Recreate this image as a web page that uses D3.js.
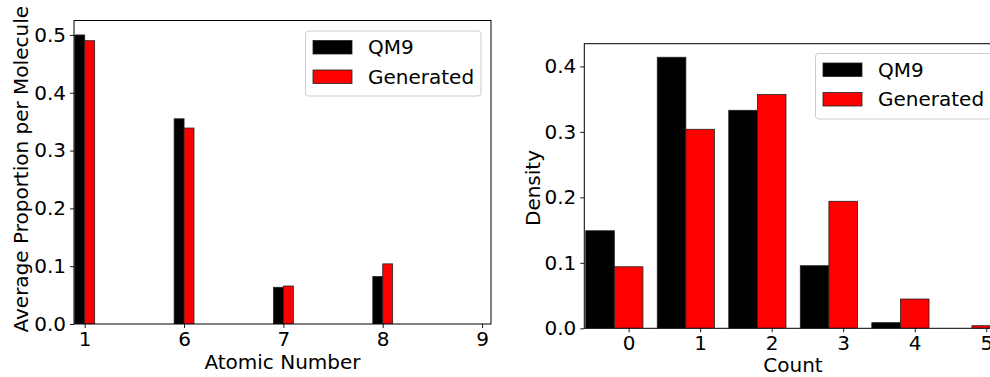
<!DOCTYPE html>
<html>
<head>
<meta charset="utf-8">
<script src="https://cdn.jsdelivr.net/npm/d3@7"></script>
<style>
  html, body { margin: 0; padding: 0; background: #fff; }
  svg { display: block; font-family: "DejaVu Sans", sans-serif; }
</style>
</head>
<body>
<svg id="chart" width="990" height="377"></svg>
<script>
// Left panel: average proportion of each element per molecule
const atomLabels = ["1", "6", "7", "8", "9"];
const atomQM9 = [0.500, 0.355, 0.0635, 0.082, 0.0];
const atomGen = [0.490, 0.339, 0.0657, 0.104, 0.0];
const atomYTicks = [0.0, 0.1, 0.2, 0.3, 0.4, 0.5];

// Right panel: count histogram (density)
const countBins = [0, 1, 2, 3, 4, 5];
const countQM9 = [0.149, 0.414, 0.333, 0.0956, 0.0086, 0.0];
const countGen = [0.094, 0.304, 0.357, 0.194, 0.0447, 0.004];
const countYTicks = [0.0, 0.1, 0.2, 0.3, 0.4];

const seriesNames = ["QM9", "Generated"];
const seriesColors = ["#000000", "#ff0000"];

const FS = 20;
const svg = d3.select("#chart");

function drawLegend(g, x0, y0, w, h) {
  const lg = g.append("g").attr("transform", `translate(${x0},${y0})`);
  lg.append("rect").attr("width", w).attr("height", h).attr("rx", 3)
    .attr("fill", "#fff").attr("fill-opacity", 0.8)
    .attr("stroke", "#cccccc").attr("stroke-width", 1);
  seriesNames.forEach((name, i) => {
    const yy = 9.5 + i * 29.5;
    lg.append("rect").attr("x", 7.5).attr("y", yy).attr("width", 39).attr("height", 13.5)
      .attr("fill", seriesColors[i]).attr("stroke", "#222").attr("stroke-width", 0.8);
    lg.append("text").attr("x", 62.5).attr("y", yy + 13.5)
      .attr("font-size", FS).attr("fill", "#000").text(name);
  });
}

// ---------- Left panel ----------
{
  const L = 74, R = 491, T = 20.5, B = 324;
  const x = d3.scaleLinear().domain([-0.108, 4.09]).range([L, R]);
  const y = d3.scaleLinear().domain([0, 0.525]).range([B, T]);
  const g = svg.append("g");
  const bw = 0.1;

  const clip = g.append("clipPath").attr("id", "clipL");
  clip.append("rect").attr("x", L).attr("y", T).attr("width", R - L).attr("height", B - T);
  const bars = g.append("g").attr("clip-path", "url(#clipL)");

  [atomQM9, atomGen].forEach((vals, s) => {
    bars.selectAll(null).data(vals).enter().append("rect")
      .attr("x", (d, i) => x(i - bw + s * bw))
      .attr("width", x(bw) - x(0))
      .attr("y", d => y(d))
      .attr("height", d => y(0) - y(d))
      .attr("fill", seriesColors[s])
      .attr("stroke", "#222").attr("stroke-width", 0.8)
      .style("display", d => d > 0 ? null : "none");
  });

  const xAxis = d3.axisBottom(x).tickValues(d3.range(atomLabels.length))
    .tickFormat(i => atomLabels[i]).tickSize(4).tickPadding(4);
  const yAxis = d3.axisLeft(y).tickValues(atomYTicks)
    .tickFormat(d3.format(".1f")).tickSize(4).tickPadding(4);

  const gx = g.append("g").attr("transform", `translate(0,${B})`).call(xAxis);
  const gy = g.append("g").attr("transform", `translate(${L},0)`).call(yAxis);
  [gx, gy].forEach(a => {
    a.select(".domain").remove();
    a.selectAll("text").attr("font-size", FS).attr("font-family", "DejaVu Sans").attr("fill", "#000");
    a.selectAll("line").attr("stroke", "#000").attr("stroke-width", 0.9);
  });

  g.append("rect").attr("x", L).attr("y", T).attr("width", R - L).attr("height", B - T)
    .attr("fill", "none").attr("stroke", "#000").attr("stroke-width", 1);

  g.append("text").attr("x", (L + R) / 2).attr("y", 369).attr("text-anchor", "middle")
    .attr("font-size", FS).text("Atomic Number");
  g.append("text").attr("transform", `translate(28,${(T + B) / 2 - 3}) rotate(-90)`)
    .attr("text-anchor", "middle").attr("font-size", FS).text("Average Proportion per Molecule");

  drawLegend(g, 305.5, 31, 175.5, 65);
}

// ---------- Right panel ----------
{
  const L = 584.3, R = 1022, T = 43.7, B = 328.3;
  const x = d3.scaleLinear().domain([-0.62, 5.5]).range([L, R]);
  const y = d3.scaleLinear().domain([0, 0.4347]).range([B, T]);
  const g = svg.append("g");
  const bw = 0.4;

  const clip = g.append("clipPath").attr("id", "clipR");
  clip.append("rect").attr("x", L).attr("y", T).attr("width", R - L).attr("height", B - T);
  const bars = g.append("g").attr("clip-path", "url(#clipR)");

  [countQM9, countGen].forEach((vals, s) => {
    bars.selectAll(null).data(vals).enter().append("rect")
      .attr("x", (d, i) => x(countBins[i] - 0.6 + s * bw))
      .attr("width", x(bw) - x(0))
      .attr("y", d => y(d))
      .attr("height", d => y(0) - y(d))
      .attr("fill", seriesColors[s])
      .attr("stroke", "#222").attr("stroke-width", 0.8)
      .style("display", d => d > 0 ? null : "none");
  });

  const xAxis = d3.axisBottom(x).tickValues(countBins)
    .tickFormat(d3.format("d")).tickSize(4).tickPadding(4);
  const yAxis = d3.axisLeft(y).tickValues(countYTicks)
    .tickFormat(d3.format(".1f")).tickSize(4).tickPadding(4);

  const gx = g.append("g").attr("transform", `translate(0,${B})`).call(xAxis);
  const gy = g.append("g").attr("transform", `translate(${L},0)`).call(yAxis);
  [gx, gy].forEach(a => {
    a.select(".domain").remove();
    a.selectAll("text").attr("font-size", FS).attr("font-family", "DejaVu Sans").attr("fill", "#000");
    a.selectAll("line").attr("stroke", "#000").attr("stroke-width", 0.9);
  });

  g.append("rect").attr("x", L).attr("y", T).attr("width", R - L).attr("height", B - T)
    .attr("fill", "none").attr("stroke", "#000").attr("stroke-width", 1);

  g.append("text").attr("x", 793).attr("y", 372).attr("text-anchor", "middle")
    .attr("font-size", FS).text("Count");
  g.append("text").attr("transform", `translate(540,${(T + B) / 2 + 2}) rotate(-90)`)
    .attr("text-anchor", "middle").attr("font-size", FS).text("Density");

  drawLegend(g, 815.5, 53.5, 176, 65.5);
}
</script>
</body>
</html>
